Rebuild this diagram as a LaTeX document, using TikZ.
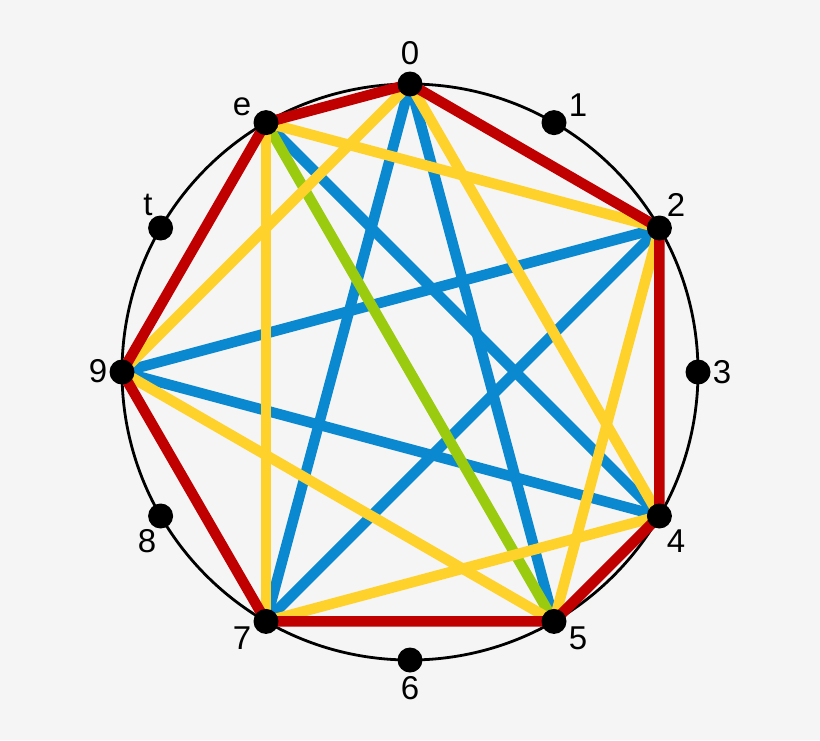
\documentclass[tikz,border=0pt]{standalone}
\usepackage{fontspec}
\setmainfont{Liberation Sans}
\definecolor{bg}{HTML}{F5F5F5}
\definecolor{cred}{HTML}{C00000}
\definecolor{cyel}{HTML}{FFD22B}
\definecolor{cblue}{HTML}{0A88D0}
\definecolor{cgreen}{HTML}{9BCB0E}
\begin{document}
\begin{tikzpicture}[x=1pt,y=-1pt,
  dot/.style={circle,fill=black,inner sep=0pt,minimum size=25pt},
  lab/.style={font=\fontsize{33}{35}\selectfont,inner sep=0pt},
  redl/.style={cred,line width=10.5pt},
  yell/.style={cyel,line width=10.5pt},
  bluel/.style={cblue,line width=10.5pt},
  greenl/.style={cgreen,line width=10.5pt}]
\fill[bg] (0,0) rectangle (820,740);
\useasboundingbox (0,0) rectangle (820,740);
\node[circle,draw=black,line width=2.8pt,minimum size=576pt,inner sep=0pt] (ring) at (410,372) {};
\foreach \n/\x/\y in {0/410/84,1/554/122.6,2/659.4/228,3/698/372,4/659.4/516,5/554/621.4,6/410/660,7/266/621.4,8/160.6/516,9/122/372,t/160.6/228,e/266/122.6}{
  \coordinate (p\n) at (\x,\y);
}
% blue
\foreach \a/\b in {0/7,0/5,e/4,9/2,9/4,2/7}{\draw[bluel] (p\a) -- (p\b);}
% green
\draw[greenl] (pe) -- (p5);
% yellow
\foreach \a/\b in {e/2,0/9,0/4,2/5,e/7,9/5,7/4}{\draw[yell] (p\a) -- (p\b);}
% red
\draw[redl,line join=round] (p0) -- (p2) -- (p4) -- (p5) -- (p7) -- (p9) -- (pe) -- cycle;
% dots
\foreach \n in {0,1,2,3,4,5,6,7,8,9,t,e}{\node[dot] (d\n) at (p\n) {};}
% labels
\foreach \n/\x/\y in {0/410/53,1/578/105,2/676/205,3/722/372,4/676/541,5/578/638,6/410/688,7/242/638,8/147/541,9/98/371,t/148/205,e/242/107}{
  \node[lab] (l\n) at (\x,\y) {\n};
}
\end{tikzpicture}
\end{document}
